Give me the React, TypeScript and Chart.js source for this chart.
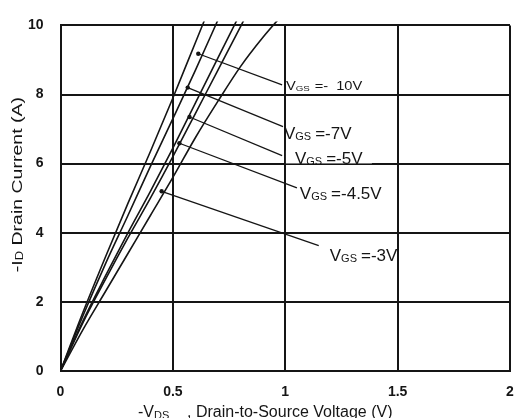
import { useEffect, useRef } from "react";
import { Chart, registerables } from "chart.js";

Chart.register(...registerables);

// Output characteristics: -ID (A) versus -VDS (V) for each gate bias
const vdsM10 = [0, 0.1, 0.2, 0.3, 0.4, 0.5, 0.6, 0.65];
const idM10 = [0, 1.7, 3.3, 4.85, 6.35, 7.9, 9.5, 10.3];

const vdsM7 = [0, 0.1, 0.2, 0.3, 0.4, 0.5, 0.6, 0.7];
const idM7 = [0, 1.6, 3.1, 4.5, 5.92, 7.3, 8.7, 10.15];

const vdsM5 = [0, 0.1, 0.2, 0.3, 0.4, 0.5, 0.6, 0.7, 0.8];
const idM5 = [0, 1.45, 2.75, 4.0, 5.2, 6.45, 7.75, 9.05, 10.35];

const vdsM45 = [0, 0.1, 0.2, 0.3, 0.4, 0.5, 0.6, 0.7, 0.8, 0.85];
const idM45 = [0, 1.4, 2.65, 3.85, 5.0, 6.2, 7.45, 8.7, 9.95, 10.6];

const vdsM3 = [0, 0.1, 0.2, 0.3, 0.4, 0.5, 0.6, 0.7, 0.8, 0.9, 1.0];
const idM3 = [0, 1.2, 2.3, 3.4, 4.5, 5.6, 6.75, 7.8, 8.8, 9.65, 10.4];

// Callout labels: gate voltage text, leader start (on curve) and end, text anchor
const gateLabels = ["=-  10V", "=-7V", "=-5V", "=-4.5V", "=-3V"];
const leaderStartV = [0.613, 0.566, 0.574, 0.529, 0.45];
const leaderStartI = [9.18, 8.2, 7.35, 6.59, 5.2];
const leaderEndV = [0.986, 0.99, 0.986, 1.052, 1.149];
const leaderEndI = [8.28, 7.07, 6.23, 5.3, 3.63];
const labelV = [1.003, 0.994, 1.043, 1.065, 1.198];
const labelI = [8.25, 6.9, 6.18, 5.15, 3.35];

// Axis tick labels
const xTickLabels = ["0", "0.5", "1", "1.5", "2"];
const yTickLabels = ["0", "2", "4", "6", "8", "10"];

const FONT = '"Liberation Sans", Arial, sans-serif';
const INK = "#151515";

function pairs(xs: number[], ys: number[]) {
  return xs.map((x, i) => ({ x, y: ys[i] }));
}

// Draws a run like  V<sub>GS</sub>=-5V  starting at (x, y) with y the text middle.
function drawSubText(
  ctx: CanvasRenderingContext2D,
  x: number,
  y: number,
  main: string,
  sub: string,
  rest: string,
  size: number,
  subSize: number,
  gap: number,
  sx: number,
  subDrop: number
) {
  ctx.save();
  ctx.translate(x, y);
  ctx.scale(sx, 1);
  ctx.fillStyle = INK;
  ctx.textAlign = "left";
  ctx.textBaseline = "alphabetic";
  const base = size * 0.36;
  let cx = 0;
  ctx.font = `${size}px ${FONT}`;
  ctx.fillText(main, cx, base);
  cx += ctx.measureText(main).width;
  ctx.font = `${subSize}px ${FONT}`;
  ctx.fillText(sub, cx, base + subDrop);
  cx += ctx.measureText(sub).width + gap;
  ctx.font = `${size}px ${FONT}`;
  ctx.fillText(rest, cx, base);
  ctx.restore();
}

const calloutPlugin = {
  id: "callouts",
  afterDatasetsDraw(chart: any) {
    const { ctx, scales, chartArea } = chart;
    const xs = scales.x;
    const ys = scales.y;

    gateLabels.forEach((txt, i) => {
      const px = xs.getPixelForValue(labelV[i]);
      const py = ys.getPixelForValue(labelI[i]);
      const small = i === 0;
      const size = small ? 12 : 17;
      const subSize = small ? 8 : 11;
      if (i === 2) {
        // clear the grid line behind this label
        ctx.save();
        ctx.fillStyle = "#ffffff";
        ctx.fillRect(px - 9, py - 7, 86, 13);
        ctx.restore();
      }
      drawSubText(ctx, px, py, "V", "GS", txt, size, subSize, 4, small ? 1.22 : 1, 1);
    });

    // y-axis title, rotated
    ctx.save();
    ctx.translate(chartArea.left - 44, (chartArea.top + chartArea.bottom) / 2 - 102);
    ctx.rotate(-Math.PI / 2);
    drawSubText(ctx, -176, 0, "-I", "D", " Drain Current (A)", 15, 10, 0, 1.3, 1);
    ctx.restore();

    // x-axis title
    drawSubText(ctx, chartArea.left + 77.5, chartArea.bottom + 40, "-V", "DS", "    , Drain-to-Source Voltage (V)", 16, 11, 0, 1, 2);
  },
};

export default function App() {
  const canvasRef = useRef<HTMLCanvasElement | null>(null);

  useEffect(() => {
    const canvas = canvasRef.current;
    if (!canvas) return;

    const curveStyle = {
      showLine: true,
      borderColor: INK,
      borderWidth: 1.6,
      pointRadius: 0,
      cubicInterpolationMode: "monotone" as const,
      clip: { left: 0, right: 0, top: 4, bottom: 0 },
    };

    const curves = [
      pairs(vdsM10, idM10),
      pairs(vdsM7, idM7),
      pairs(vdsM5, idM5),
      pairs(vdsM45, idM45),
      pairs(vdsM3, idM3),
    ].map((data) => ({ ...curveStyle, data }));

    const leaders = gateLabels.map((_, i) => ({
      showLine: true,
      borderColor: INK,
      borderWidth: 1.3,
      pointRadius: [2.2, 0],
      pointBackgroundColor: INK,
      pointBorderWidth: 0,
      data: [
        { x: leaderStartV[i], y: leaderStartI[i] },
        { x: leaderEndV[i], y: leaderEndI[i] },
      ],
    }));

    const tickFont = { size: 14, family: FONT, weight: "bold" as const };

    const chart = new Chart(canvas, {
      type: "scatter",
      data: { datasets: [...curves, ...leaders] as any },
      options: {
        animation: false,
        responsive: false,
        devicePixelRatio: 1,
        layout: { padding: { top: 16, left: 0, right: 0, bottom: 0 } },
        plugins: { legend: { display: false }, tooltip: { enabled: false } },
        scales: {
          x: {
            type: "linear",
            min: 0,
            max: 2,
            ticks: {
              stepSize: 0.5,
              padding: 13,
              color: INK,
              font: tickFont,
              callback: (_v: any, i: number) => xTickLabels[i],
            },
            grid: { color: INK, lineWidth: 2, drawTicks: false },
            border: { color: INK, width: 2 },
            afterFit: (s: any) => {
              s.height = 47;
              s.paddingRight = 1.5;
            },
          },
          y: {
            type: "linear",
            min: 0,
            max: 10,
            ticks: {
              stepSize: 2,
              padding: 17,
              color: INK,
              font: tickFont,
              callback: (_v: any, i: number) => yTickLabels[i],
            },
            grid: { color: INK, lineWidth: 2, drawTicks: false },
            border: { color: INK, width: 2 },
            afterFit: (s: any) => {
              s.width = 60.5;
            },
          },
        },
      },
      plugins: [calloutPlugin],
    });

    return () => chart.destroy();
  }, []);

  return (
    <div
      style={{
        position: "absolute",
        left: 0,
        top: 0,
        width: 514,
        height: 418,
        overflow: "hidden",
        background: "#fff",
      }}
    >
      <canvas ref={canvasRef} width={514} height={418} style={{ display: "block" }} />
    </div>
  );
}
